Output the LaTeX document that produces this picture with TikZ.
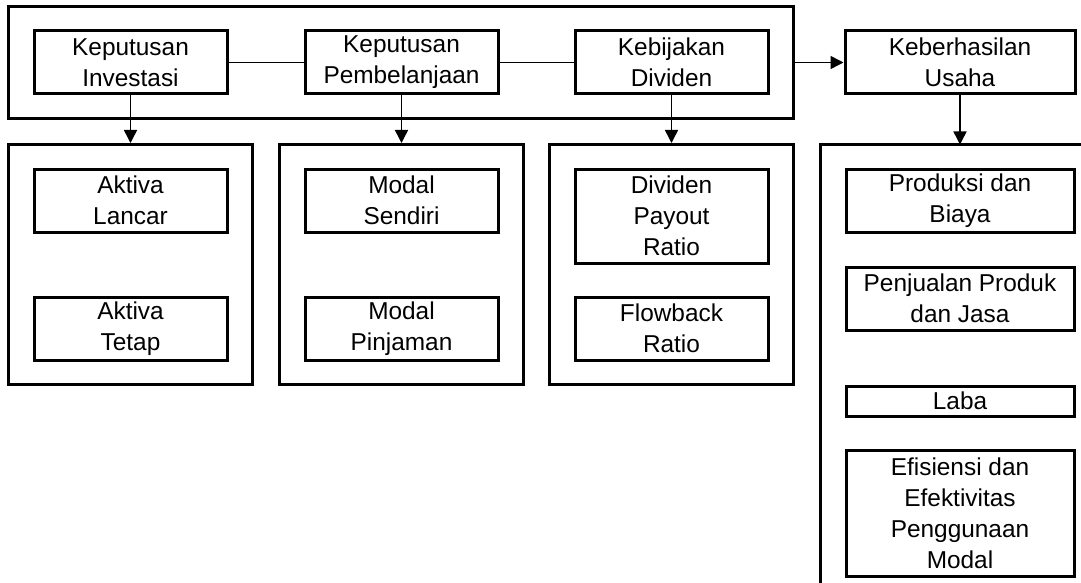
\documentclass[tikz,border=0pt]{standalone}
\usepackage{fontspec}
\setmainfont{Liberation Sans}
\usepackage{tikz}
\usetikzlibrary{arrows.meta, positioning, fit}

\begin{document}
\begin{tikzpicture}[
  x=1pt, y=-1pt,
  %--- style definitions ---
  kotak/.style   = {rectangle, draw, line width=3pt, minimum width=#1,
                    minimum height=63pt, inner sep=0pt, align=center,
                    font=\fontsize{24.4}{31}\selectfont},
  kotak/.default = 193pt,
  grup/.style    = {rectangle, draw, line width=3pt, inner xsep=24pt,
                    inner ysep=23pt},
  garis/.style   = {line width=1.5pt},
  panah/.style   = {-{Triangle[length=13pt,width=13pt]}, line width=1.5pt},
]

\fill[white] (0,0) rectangle (1081,583);
\useasboundingbox (0,0) rectangle (1081,583);

%% ── ROW 1 : KEPUTUSAN ──────────────────────────────────────────────────────
\node[kotak]  (inv) at (130.5,62.5) {Keputusan\\Investasi};
\node[kotak, right=75pt of inv]  (bel) {Keputusan\\Pembelanjaan};
\node[kotak, right=74pt of bel]  (div) {Kebijakan\\Dividen};
\node[kotak=230pt, right=74pt of div]  (usaha) {Keberhasilan\\Usaha};

%% ── COLUMN 1 : INVESTASI ───────────────────────────────────────────────────
\node[kotak, below=72pt of inv]     (lancar) {Aktiva\\Lancar};
\node[kotak, below=62pt of lancar]  (tetap)  {Aktiva\\Tetap};

%% ── COLUMN 2 : PEMBELANJAAN ────────────────────────────────────────────────
\node[kotak, below=72pt of bel]      (sendiri) {Modal\\Sendiri};
\node[kotak, below=62pt of sendiri]  (pinjam)  {Modal\\Pinjaman};

%% ── COLUMN 3 : DIVIDEN ─────────────────────────────────────────────────────
\node[kotak, minimum height=94pt, below=72pt of div]  (dpr) {Dividen\\Payout\\Ratio};
\node[kotak, below=31pt of dpr]  (fbr) {Flowback\\Ratio};

%% ── COLUMN 4 : KEBERHASILAN USAHA ──────────────────────────────────────────
\node[kotak=228pt, below=72pt of usaha]  (prod) {Produksi dan\\Biaya};
\node[kotak=228pt, below=32pt of prod]   (jual) {Penjualan Produk\\dan Jasa};
\node[kotak=228pt, minimum height=30pt, below=53pt of jual]  (laba) {Laba};
\node[kotak=228pt, minimum height=126pt, below=31pt of laba] (efek)
      {Efisiensi dan\\Efektivitas\\Penggunaan\\Modal};

%% ── GROUP BOXES ────────────────────────────────────────────────────────────
\node[grup, fit=(inv)(div)]        (grpkep) {};
\node[grup, fit=(lancar)(tetap)]   (grpinv) {};
\node[grup, fit=(sendiri)(pinjam)] (grpbel) {};
\node[grup, fit=(dpr)(fbr)]        (grpdiv) {};

% open box round the right column
\coordinate (grpus) at ([xshift=-24pt,yshift=23pt]prod.north west);
\coordinate (pojok) at (1081,583);
\draw[line width=3pt] (grpus |- pojok) -- (grpus) -- (grpus -| pojok);

%% ── ARROWS ─────────────────────────────────────────────────────────────────
\draw[garis] (inv) -- (bel);
\draw[garis] (bel) -- (div);
\draw[panah] (grpkep.east) -- (usaha.west);

\draw[panah] (inv) -- (grpinv);
\draw[panah] (bel) -- (grpbel);
\draw[panah] (div) -- (grpdiv);
\draw[panah] (usaha.south) -- (usaha.south |- grpus);

\end{tikzpicture}
\end{document}
